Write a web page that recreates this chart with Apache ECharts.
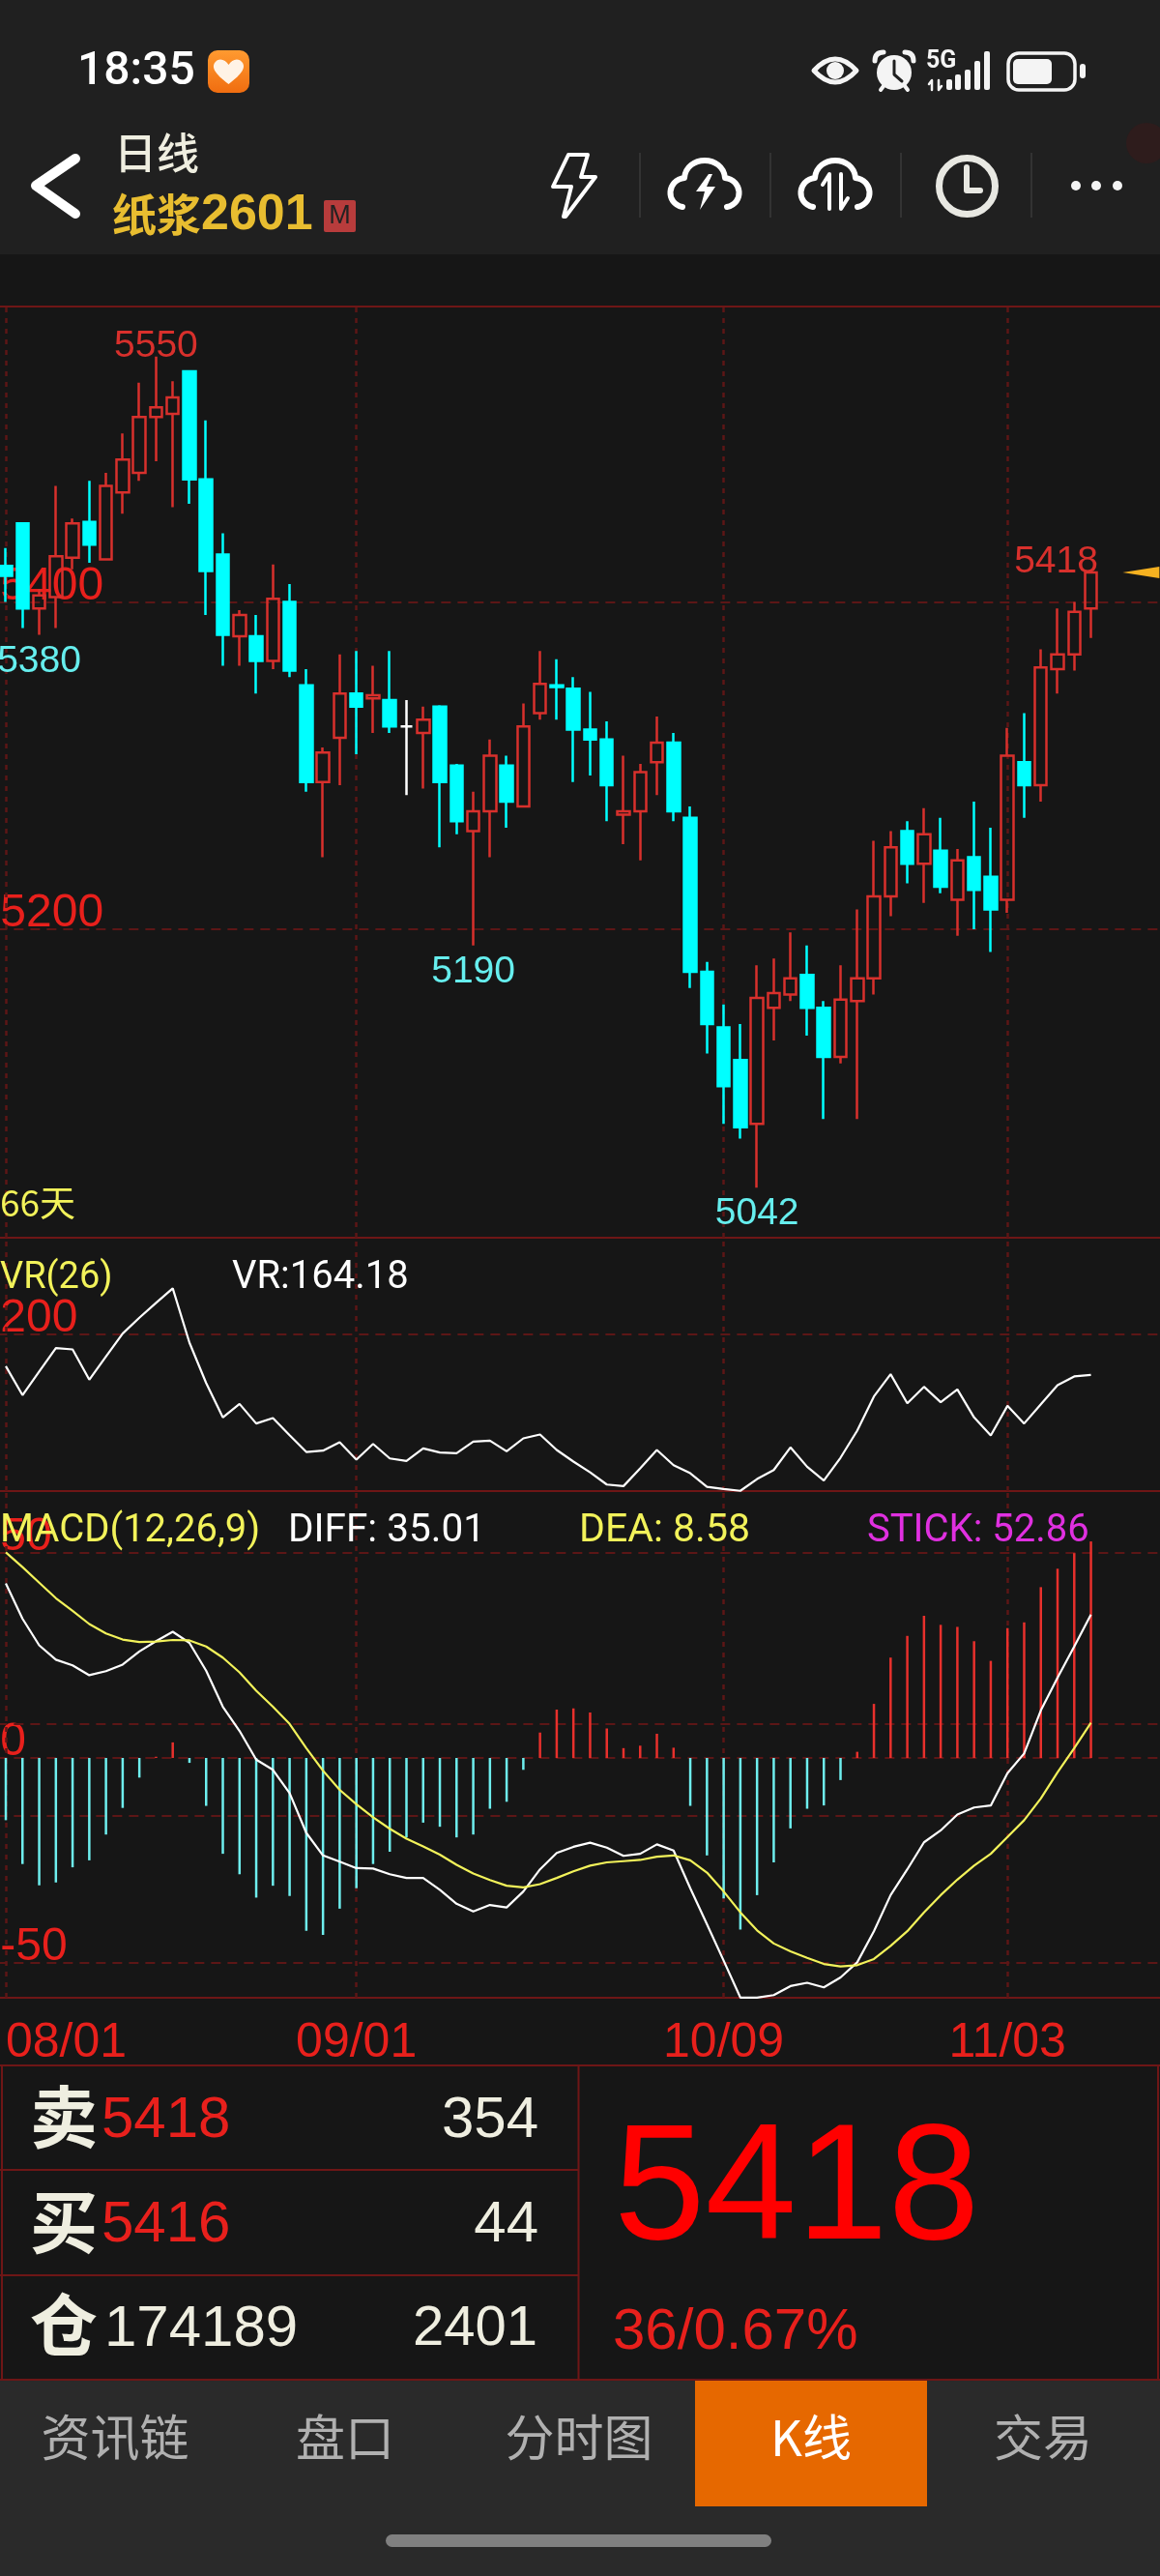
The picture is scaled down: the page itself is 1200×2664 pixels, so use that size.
<!DOCTYPE html>
<html>
<head>
<meta charset="utf-8">
<title>纸浆2601 日线</title>
<style>
  html, body { margin: 0; padding: 0; background: #161616; }
  #chart { width: 1200px; height: 2664px; }
</style>
<script src="https://cdn.jsdelivr.net/npm/echarts@6/dist/echarts.min.js"></script>
</head>
<body>
<div id="chart"></div>
<script>
// ---- data ----
const dates = [
  '08/01','08/04','08/05','08/06','08/07','08/08','08/11','08/12','08/13','08/14','08/15',
  '08/18','08/19','08/20','08/21','08/22','08/25','08/26','08/27','08/28','08/29',
  '09/01','09/02','09/03','09/04','09/05','09/08','09/09','09/10','09/11','09/12',
  '09/15','09/16','09/17','09/18','09/19','09/22','09/23','09/24','09/25','09/26','09/29','09/30',
  '10/09','10/10','10/13','10/14','10/15','10/16','10/17','10/20','10/21','10/22','10/23','10/24',
  '10/27','10/28','10/29','10/30','10/31','11/03','11/04','11/05','11/06','11/07','11/10'
];
const opens = [
  5422,5448,5396,5403,5427,5449,5426,5467,5479,5513,5515,5541,5475,5429,5379,5379,5364,5400,5349,5290,
  5317,5344,5341,5340,5324,5320,5336,5300,5260,5272,5300,5275,5332,5349,5347,5322,5316,5270,5272,5302,
  5314,5268,5174,5140,5120,5081,5152,5160,5172,5152,5122,5156,5170,5220,5260,5240,5248,5218,5244,5232,
  5218,5302,5288,5359,5368,5396
];
const closes = [
  5416,5396,5404,5428,5448,5435,5471,5487,5513,5519,5525,5475,5419,5380,5392,5364,5402,5358,5290,5308,
  5344,5336,5343,5324,5324,5328,5290,5266,5272,5306,5278,5324,5350,5348,5322,5316,5288,5272,5296,5314,
  5272,5174,5142,5104,5079,5158,5161,5170,5152,5122,5157,5170,5220,5250,5240,5258,5226,5242,5224,5212,
  5306,5288,5360,5368,5394,5418
];
const lows = [
  5400,5384,5380,5384,5420,5424,5426,5454,5474,5486,5458,5460,5392,5361,5361,5344,5359,5354,5284,5244,
  5288,5307,5320,5320,5282,5286,5250,5258,5190,5244,5262,5275,5328,5328,5290,5294,5266,5252,5242,5282,
  5266,5164,5124,5081,5072,5042,5132,5156,5135,5084,5118,5084,5160,5208,5228,5216,5222,5196,5200,5186,
  5210,5268,5278,5344,5358,5378
];
const highs = [
  5433,5448,5408,5471,5451,5474,5479,5503,5534,5550,5535,5541,5511,5442,5395,5392,5423,5411,5359,5311,
  5368,5370,5361,5370,5340,5336,5337,5301,5284,5316,5306,5338,5370,5365,5354,5345,5327,5306,5301,5330,
  5320,5275,5180,5154,5142,5178,5182,5198,5190,5156,5178,5212,5254,5260,5266,5274,5268,5249,5278,5262,
  5323,5332,5371,5396,5400,5418
];
const vrValues = [
  171.9,146.2,167.1,188,186.8,159.9,180.5,200.9,214.9,228.1,241,192.8,157,126.4,138.4,121,125.8,110.6,95.7,96.9,
  104.3,88.9,102.9,90,87.7,98.9,95.2,94.6,104.9,105.8,96.3,107.8,111.2,97.5,87.2,77.7,66.8,65.4,81.1,97.5,
  84,76.8,64.8,62.8,61.2,71.7,79.7,99.8,82.6,70.3,90.6,114.7,145,164.8,139,153.6,139.9,151.3,126.4,110.4,
  136.7,121,138.1,155,162.8,164.18
];
const diffValues = [
  42.6,34,27.5,24,22.6,20.2,21.2,22.8,26,28.5,30.8,28.1,21.3,12.5,6.6,-0.4,-2.9,-8.6,-18.3,-23.8,
  -25.3,-26.9,-27,-28.4,-29.3,-29.3,-32.2,-35.6,-37.5,-35.9,-36.5,-32.6,-27.2,-23.2,-21.7,-20.7,-21.9,-23.9,-23.4,-21.1,
  -22.6,-31.8,-40.6,-49.5,-58.5,-58.5,-57.9,-55.7,-54.9,-56,-53.6,-49.9,-42.3,-33.5,-27.2,-20.6,-17.7,-13.8,-12.1,-11.6,
  -3.7,1.1,11.6,19.6,27.2,35.01
];
const deaValues = [
  50.2,46.6,42.8,39,35.9,32.7,30.4,28.9,28.3,28.4,28.8,28.7,27.2,24.5,20.9,16.4,12.5,8.3,2.4,-3.1,
  -7.8,-11.3,-14.5,-17.3,-19.7,-21.6,-23.6,-26.1,-28.2,-29.8,-31.2,-31.6,-30.8,-29.3,-27.7,-26.3,-25.5,-25.2,-24.9,-24.1,
  -23.8,-25,-28,-32.6,-37.7,-42.1,-45.3,-47.2,-48.8,-50.3,-50.9,-50.6,-49.1,-45.9,-42.3,-37.7,-33.5,-29.7,-26.3,-23.4,
  -19.3,-15.2,-9.9,-3.5,2.4,8.58
];
const stickValues = [
  -15.2,-25.9,-31.1,-30.4,-26.7,-25,-18.7,-12.2,-4.8,0.3,3.8,-1.2,-11.7,-23.4,-28.4,-34.1,-31.2,-33.7,-42.2,-43.2,
  -36.8,-31.8,-25.9,-22.9,-19.4,-15.8,-16.8,-19.4,-18.7,-12.4,-10.7,-2.9,6.2,11.8,12.1,11.1,7.2,2.4,3,5.9,
  2.5,-11.7,-23.8,-34.3,-41.9,-33.5,-25.5,-17.2,-12.4,-11.6,-5.4,1.5,13.2,24.5,29.8,34.7,32.5,32,28.5,23.7,
  31.7,33.1,41.7,46.2,50,52.86
];

const priceTicks = [5200, 5400];
const vrTicks = [200];
const macdTicks = [-50, 0, 50];
const macdLevels = [-50, -14, 0, 8.3, 50];
const dateLabelIdx = [0, 21, 43, 60];

// ---- colours ----
const RED = '#d8302c';
const AXIS_RED = '#e8201c';
const CYAN = '#00ffff';
const PALE_CYAN = '#66eeee';
const CREAM = '#efeee0';
const YELLOW = '#f2f25a';
const LINE_RED = '#6e1616';
const GRID_RED = '#5c1616';

// four spare slots leave the empty strip right of the last candle
const xCategories = dates.concat(['', '', '', '']);

const GRID_LEFT = -2.63;
const GRID_WIDTH = 1208.9;

function gridBox(top, height) {
  return {
    left: GRID_LEFT, width: GRID_WIDTH, top: top, height: height,
    outerBoundsMode: 'none',  // v6 would otherwise clamp the grid to the canvas
    show: true, backgroundColor: 'transparent', borderColor: LINE_RED, borderWidth: 2
  };
}

function xAxisFor(gridIndex, showLabels) {
  return {
    type: 'category', gridIndex: gridIndex, data: xCategories,
    axisLine: { show: false }, axisTick: { show: false }, splitLine: { show: false },
    axisLabel: {
      show: showLabels,
      interval: (i) => dateLabelIdx.includes(i),
      color: AXIS_RED, fontSize: 50, fontFamily: 'Liberation Sans',
      margin: 22, alignMinLabel: 'left'
    }
  };
}

function yAxisFor(gridIndex, min, max, ticks) {
  return {
    type: 'value', gridIndex: gridIndex, min: min, max: max,
    axisLine: { show: false }, axisTick: { show: false }, splitLine: { show: false },
    axisLabel: {
      inside: true, customValues: ticks, margin: 3,
      formatter: (v) => String(v),
      color: AXIS_RED, fontSize: 48, fontFamily: 'Liberation Sans',
      verticalAlign: 'bottom', lineHeight: 32
    }
  };
}

// dashed reference lines, vertical at the month labels plus the pane's levels
function paneLines(levels) {
  const dash = { color: GRID_RED, width: 2 };
  return {
    silent: true, symbol: 'none', animation: false, z: 1, label: { show: false },
    data: dateLabelIdx.map(i => ({ xAxis: i, lineStyle: { ...dash, type: [5, 6], width: 2.5 } }))
      .concat(levels.map(v => ({ yAxis: v, lineStyle: { ...dash, type: [10, 7] } })))
  };
}

function priceTag(i, value, color, pos, offset) {
  return {
    coord: [i, value], symbol: 'circle', symbolSize: 0,
    label: {
      show: true, formatter: String(value), position: pos, distance: 8, offset: offset || [0, 0],
      color: color, fontSize: 39, fontFamily: 'Liberation Sans'
    }
  };
}

// ---- screen furniture ----
function txt(x, y, text, size, color, o) {
  o = o || {};
  return {
    type: 'text', z: 100, x: x, y: y,
    style: {
      text: text, fill: color,
      font: (o.weight || 'normal') + ' ' + size + 'px "' + (o.family || 'Liberation Sans') + '"',
      align: o.align || 'left', verticalAlign: 'middle'
    }
  };
}
function box(x, y, w, h, fill, r, z) {
  return { type: 'rect', z: z || 90, shape: { x: x, y: y, width: w, height: h, r: r || 0 }, style: { fill: fill } };
}
function hairline(x1, y1, x2, y2, color, width) {
  return { type: 'line', z: 95, shape: { x1, y1, x2, y2 }, style: { stroke: color || LINE_RED, lineWidth: width || 2 } };
}

// the graphic component has no raw svg type here, so each icon path is registered as a shape
let iconCount = 0;
function iconShape(d) {
  const name = 'icon' + (iconCount++);
  echarts.graphic.registerShape(name, echarts.graphic.extendPath(d, {}));
  return name;
}
function stroked(d, color, width) {
  return {
    type: iconShape(d), z: 100,
    style: { fill: 'none', stroke: color || '#fff', lineWidth: width, lineCap: 'round', lineJoin: 'round' }
  };
}
function filled(d, color) {
  return { type: iconShape(d), z: 100, style: { fill: color || '#fff' } };
}
const CJK = { family: 'Noto Sans CJK SC' };
const CJK_BOLD = { family: 'Noto Sans CJK SC', weight: 'bold' };

const cloudOutline = (dx) =>
  `M${706 + dx} 214 C${688 + dx} 210 ${690 + dx} 186 ${708 + dx} 184 C${710 + dx} 160 ${748 + dx} 160 ${750 + dx} 184 C${768 + dx} 186 ${770 + dx} 210 ${752 + dx} 214`;

const furniture = [
  box(0, 0, 1200, 263, '#202020', 0, 1),
  box(0, 2462, 1200, 202, '#2a2a2a', 0, 1),

  // status bar
  txt(80, 75, '18:35', 48, '#fff', { family: 'Roboto', weight: '500' }),
  {
    type: 'rect', z: 95, shape: { x: 215, y: 52, width: 43, height: 44, r: 10 },
    style: { fill: { type: 'linear', x: 0, y: 0, x2: 0, y2: 1, colorStops: [{ offset: 0, color: '#ff9a30' }, { offset: 1, color: '#f06d10' }] } }
  },
  filled('M236.5 87 C222 76 219 70 222 65 C226 59 233 61 236.5 67 C240 61 247 59 251 65 C254 70 251 76 236.5 87Z', '#fff3e6'),
  stroked('M842 73 Q864 49 886 73 Q864 97 842 73Z', '#f4f4f4', 5),
  { type: 'circle', z: 100, shape: { cx: 864, cy: 73, r: 9 }, style: { fill: '#f4f4f4' } },
  { type: 'circle', z: 100, shape: { cx: 925, cy: 75, r: 18 }, style: { fill: '#f4f4f4' } },
  stroked('M925 63 L925 77 L933 84', '#202020', 3),
  stroked('M905 63 Q905 54 914 54 M936 54 Q945 54 945 63', '#f4f4f4', 5),
  stroked('M911 93 L914 89 M939 93 L936 89', '#f4f4f4', 4),
  txt(958, 64, '5G', 25, '#f4f4f4', { family: 'Roboto', weight: 'bold' }),
  stroked('M964 93 L964 83 L961 87 M971 83 L971 93 L974 89', '#f4f4f4', 2.5),
  box(979, 82, 6, 11, '#f4f4f4', 2, 100), box(988, 77, 6, 16, '#f4f4f4', 2, 100),
  box(998, 72, 6, 21, '#f4f4f4', 2, 100), box(1008, 63, 6, 30, '#f4f4f4', 2, 100),
  box(1018, 53, 6, 40, '#f4f4f4', 2, 100),
  {
    type: 'rect', z: 100, shape: { x: 1043, y: 55, width: 69, height: 38, r: 11 },
    style: { fill: 'none', stroke: '#f4f4f4', lineWidth: 3.5 }
  },
  box(1048, 61, 40, 26, '#f4f4f4', 5, 100),
  box(1117, 66, 6, 15, '#f4f4f4', 3, 100),

  // title row
  stroked('M78 164 L37 192 L78 221', '#fff', 10),
  txt(118, 158, '日线', 44, CREAM, { family: 'Noto Sans CJK SC', weight: '500' }),
  txt(116, 222, '纸浆', 46, '#e8bd30', CJK_BOLD),
  txt(208, 223, '2601', 52, '#e8bd30', { family: 'Liberation Sans', weight: 'bold' }),
  box(335, 207, 33, 33, '#b83c3c', 2, 95),
  txt(351.5, 224, 'M', 27, '#222', { align: 'center' }),
  stroked('M588 160 L608 160 L601 183 L616 183 L585 224 L583 224 L591 193 L572 193Z', '#fff', 4),
  hairline(662, 158, 662, 225, '#333'), hairline(797, 158, 797, 225, '#333'),
  hairline(932, 158, 932, 225, '#333'), hairline(1067, 158, 1067, 225, '#333'),
  stroked(cloudOutline(0), '#fff', 6),
  filled('M733 180 L720 198 L729 198 L724 217 L740 193 L731 193 L737 180Z', '#fff'),
  stroked(cloudOutline(135), '#fff', 6),
  stroked('M858 216 L858 180 L851 191 M870 180 L870 216 L877 205', '#fff', 4),
  { type: 'circle', z: 100, shape: { cx: 1000.5, cy: 192.5, r: 29 }, style: { fill: 'none', stroke: '#e8e8e2', lineWidth: 7 } },
  stroked('M1000 173 L1000 197 L1014 197', '#e8e8e2', 6),
  { type: 'circle', z: 100, shape: { cx: 1113, cy: 192, r: 5 }, style: { fill: '#f4f4f4' } },
  { type: 'circle', z: 100, shape: { cx: 1134, cy: 192, r: 5 }, style: { fill: '#f4f4f4' } },
  { type: 'circle', z: 100, shape: { cx: 1156, cy: 192, r: 5 }, style: { fill: '#f4f4f4' } },
  { type: 'circle', z: 90, shape: { cx: 1186, cy: 148, r: 21 }, style: { fill: '#2e1c1c' } },

  // pane captions
  txt(0, 1244, '66天', 37, YELLOW, CJK),
  txt(0, 1322, 'VR(26)', 38, YELLOW, { family: 'Roboto' }),
  txt(240, 1322, 'VR:164.18', 40, '#fff', { family: 'Roboto' }),
  txt(0, 1584, 'MACD(12,26,9)', 40, YELLOW, { family: 'Roboto' }),
  txt(298, 1584, 'DIFF: 35.01', 40.5, '#fff', { family: 'Roboto' }),
  txt(599, 1584, 'DEA: 8.58', 41, YELLOW, { family: 'Roboto' }),
  txt(897, 1584, 'STICK: 52.86', 40, '#e030e0', { family: 'Roboto' }),

  // quote table
  hairline(0, 2136, 1200, 2136), hairline(0, 2461, 1200, 2461),
  hairline(2, 2136, 2, 2461), hairline(1198, 2136, 1198, 2461),
  hairline(598.5, 2136, 598.5, 2461), hairline(0, 2244, 598.5, 2244), hairline(0, 2353, 598.5, 2353),
  txt(31, 2189, '卖', 70, CREAM, CJK_BOLD),
  txt(105, 2193, '5418', 60, AXIS_RED),
  txt(557, 2193, '354', 60, CREAM, { align: 'right' }),
  txt(31, 2298, '买', 70, CREAM, CJK_BOLD),
  txt(105, 2301, '5416', 60, AXIS_RED),
  txt(557, 2301, '44', 60, CREAM, { align: 'right' }),
  txt(31, 2404, '仓', 70, CREAM, CJK_BOLD),
  txt(108, 2409, '174189', 60, CREAM),
  txt(556, 2409, '2401', 58, CREAM, { align: 'right' }),
  txt(635, 2268, '5418', 170, '#ff0000'),
  txt(634, 2412, '36/0.67%', 60, AXIS_RED),

  // bottom tabs
  box(719, 2462, 240, 130, '#e66800', 0, 90),
  txt(119, 2521, '资讯链', 51, '#b0b0b0', { ...CJK, align: 'center' }),
  txt(357, 2521, '盘口', 51, '#b0b0b0', { ...CJK, align: 'center' }),
  txt(599, 2521, '分时图', 51, '#b0b0b0', { ...CJK, align: 'center' }),
  txt(839, 2521, 'K线', 51, '#fff', { ...CJK, align: 'center' }),
  txt(1079, 2521, '交易', 51, '#b0b0b0', { ...CJK, align: 'center' }),
  box(399, 2621, 399, 13, '#808080', 6.5, 90)
];

// ---- chart ----
const chart = echarts.init(document.getElementById('chart'));

const option = {
  animation: false,
  backgroundColor: '#161616',
  grid: [gridBox(317, 963), gridBox(1280, 262), gridBox(1542, 524)],
  xAxis: [xAxisFor(0, false), xAxisFor(1, false), xAxisFor(2, true)],
  yAxis: [
    yAxisFor(0, 5011.4, 5580.6, priceTicks),
    yAxisFor(1, 61, 286, vrTicks),
    yAxisFor(2, -58.55, 65.16, macdTicks)
  ],
  graphic: { elements: furniture },
  series: [
    {
      type: 'candlestick', xAxisIndex: 0, yAxisIndex: 0, barWidth: 13,
      data: dates.map((d, i) => [opens[i], closes[i], lows[i], highs[i]]),
      itemStyle: {
        color: 'transparent', color0: CYAN,
        borderColor: RED, borderColor0: CYAN, borderColorDoji: '#fff', borderWidth: 2.5
      },
      markLine: paneLines(priceTicks),
      markPoint: {
        silent: true, animation: false,
        data: [
          priceTag(9, 5550, RED, 'top', [0, 17]),
          priceTag(2, 5380, PALE_CYAN, 'bottom'),
          priceTag(28, 5190, PALE_CYAN, 'bottom'),
          priceTag(45, 5042, PALE_CYAN, 'bottom'),
          priceTag(65, 5418, RED, 'top', [-36, 17]),
          {
            coord: [68, 5418], symbol: 'triangle', symbolSize: [12, 38], symbolRotate: 90,
            itemStyle: { color: '#f5b120' }, label: { show: false }
          }
        ]
      }
    },
    {
      type: 'line', xAxisIndex: 1, yAxisIndex: 1, data: vrValues, symbol: 'none',
      lineStyle: { color: '#fff', width: 2.2 },
      markLine: paneLines(vrTicks)
    },
    {
      type: 'bar', xAxisIndex: 2, yAxisIndex: 2, data: stickValues, barWidth: 2.5,
      itemStyle: { color: (p) => (p.value >= 0 ? '#e8302c' : '#6eeeee') },
      markLine: paneLines(macdLevels)
    },
    {
      type: 'line', xAxisIndex: 2, yAxisIndex: 2, data: diffValues, symbol: 'none',
      lineStyle: { color: '#fff', width: 2.2 }
    },
    {
      type: 'line', xAxisIndex: 2, yAxisIndex: 2, data: deaValues, symbol: 'none',
      lineStyle: { color: YELLOW, width: 2.2 }
    }
  ]
};

chart.setOption(option);
window.addEventListener('resize', () => chart.resize());
</script>
</body>
</html>
